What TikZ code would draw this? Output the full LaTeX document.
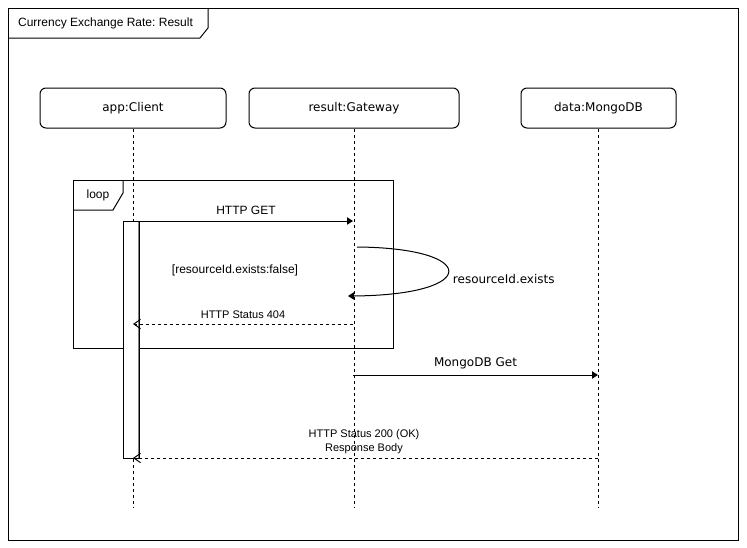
\documentclass[tikz,border=0pt]{standalone}
\usepackage{fontspec}
\setmainfont{Liberation Sans}
\newfontfamily\verd{DejaVu Sans}
\usetikzlibrary{arrows.meta}
\frenchspacing

\begin{document}
\begin{tikzpicture}[x=0.75pt,y=-0.75pt,line width=0.75pt,
  actor/.style={draw,rounded corners=4.5pt,minimum height=30pt,font=\verd\fontsize{9}{11}\selectfont},
  life/.style={dash pattern=on 2.25pt off 2.25pt},
  msg/.style={-{Triangle[length=4.5pt,width=5.5pt]}},
  reply/.style={dash pattern=on 2.25pt off 2.25pt,-{Straight Barb[length=5pt,width=7pt]}},
  lbl/.style={font=\fontsize{9}{11}\selectfont},
  small/.style={font=\fontsize{8.25}{10.5}\selectfont,align=center}]
  \useasboundingbox (0,0) rectangle (747,547);
  % frame and title
  \draw (8,8) rectangle (738,540);
  \draw (8,38) -- (200,38) -- (208,28) -- (208,8);
  \node[lbl] (title) at (105.5,23) {Currency Exchange Rate: Result};

  % lifelines
  \node[actor,minimum width=139.5pt] (client) at (133,108) {app:Client};
  \node[actor,minimum width=157.5pt] (gateway) at (354,108) {result:Gateway};
  \node[actor,minimum width=116.25pt] (mongo) at (598.5,108) {data:MongoDB};
  \coordinate (clientEnd) at (133,508);
  \coordinate (gatewayEnd) at (354,508);
  \coordinate (mongoEnd) at (598.5,508);
  \draw[life] (client) -- (clientEnd);
  \draw[life] (gateway) -- (gatewayEnd);
  \draw[life] (mongo) -- (mongoEnd);

  % loop fragment
  \draw (73,180) rectangle (393,348);
  \draw (73,210) -- (113,210) -- (123,193) -- (123,180);
  \node[lbl] (loop) at (98,195) {loop};

  % activation
  \filldraw[fill=white] (123,221) rectangle (139,458);
  \draw[gray,line width=1.3pt] (138.5,222) -- (138.5,457.5);

  % messages
  \coordinate (getA) at (139,221);
  \coordinate (getB) at (353,221);
  \draw[msg] (getA) -- node[lbl,above=1pt] (getLbl) {HTTP GET} (getB);

  \coordinate (selfA) at (357,247);
  \coordinate (selfB) at (348,296);
  \draw[msg] (selfA) .. controls (480,248) and (480,295) .. (selfB);
  \node[font=\verd\fontsize{9}{11}\selectfont,anchor=west] (selfLbl) at (448,279) {resourceId.exists};
  \node[lbl] (guard) at (235,270) {[resourceId.exists:false]};

  \coordinate (nfA) at (353,324);
  \coordinate (nfB) at (133,324);
  \draw[reply] (nfA) -- node[small,above=0pt] (nfLbl) {HTTP Status 404} (nfB);

  \coordinate (dbA) at (353,375);
  \coordinate (dbB) at (598,375);
  \draw[msg] (dbA) -- node[font=\verd\fontsize{9}{11}\selectfont,above=1pt] (dbLbl) {MongoDB Get} (dbB);

  \coordinate (okA) at (598,458);
  \coordinate (okB) at (133,458);
  \draw[reply] (okA) -- (okB);
  \node[small] (okLbl) at (364,442) {HTTP Status 200 (OK)\\Response Body};
\end{tikzpicture}
\end{document}
